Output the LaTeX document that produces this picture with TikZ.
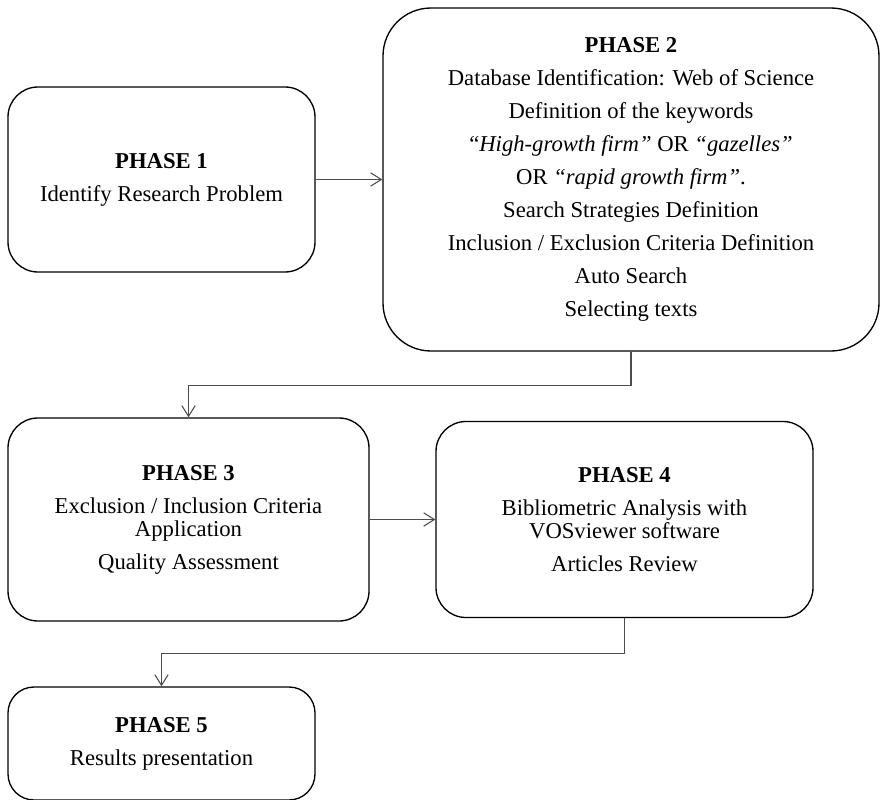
\documentclass[tikz,border=0pt]{standalone}
\usepackage{fontspec}
\setmainfont{Liberation Serif}
\usetikzlibrary{arrows.meta}
\tikzset{
  phasebox/.style={draw, line width=1pt, rounded corners=22.5pt, align=center, inner sep=0pt,
    font=\fontsize{17}{24.75}\selectfont},
  link/.style={draw=black!70, line width=0.8pt, -{Straight Barb[length=8pt,width=10pt]}}
}

\begin{document}
\begin{tikzpicture}[x=0.75pt,y=-0.75pt]
\useasboundingbox (0,0) rectangle (881,799);
\node [phasebox, minimum width=230.25pt, minimum height=138.75pt] (p1) at (161.5,179.5)
  {\textbf{PHASE 1}\\Identify Research Problem};
\node [phasebox, rounded corners=36pt, minimum width=372pt, minimum height=257.25pt] (p2) at (631,179.5)
  {\textbf{PHASE 2}\\Database Identification: Web of Science\\Definition of the keywords\\
   “\textit{High-growth firm”} OR \textit{“gazelles”}\\OR \textit{“rapid growth firm”}.\\
   Search Strategies Definition\\Inclusion / Exclusion Criteria Definition\\Auto Search\\Selecting texts};
\node [phasebox, minimum width=270.75pt, minimum height=152.25pt] (p3) at (188.5,519.5)
  {\textbf{PHASE 3}\\Exclusion / Inclusion Criteria\\[-7.5pt]Application\\Quality Assessment};
\node [phasebox, minimum width=282.75pt, minimum height=147pt] (p4) at (624.5,519.5)
  {\textbf{PHASE 4}\\Bibliometric Analysis with\\[-7.5pt]VOSviewer software\\Articles Review};
\node [phasebox, rounded corners=19.5pt, minimum width=230.25pt, minimum height=84.75pt] (p5) at (161.5,743.5)
  {\textbf{PHASE 5}\\Results presentation};
\draw [link] (p1.east) -- (p2.west);
\draw [link] (p2.south) -- ++(0,34) -| (p3.north);
\draw [link] (p3.east) -- (p4.west);
\draw [link] (p4.south) -- ++(0,35) -| (p5.north);
\end{tikzpicture}
\end{document}
